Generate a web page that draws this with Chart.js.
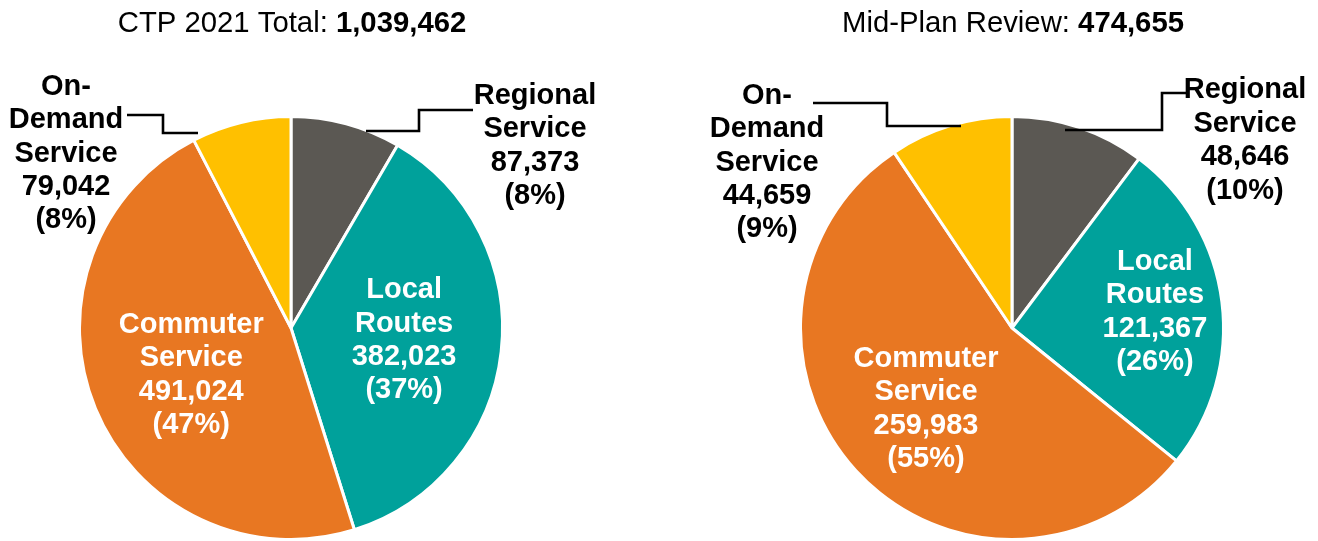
<!DOCTYPE html>
<html><head><meta charset="utf-8">
<script src="https://cdn.jsdelivr.net/npm/chart.js@4/dist/chart.umd.min.js"></script>
<style>
html,body{margin:0;padding:0;background:#fff;}
#wrap{position:relative;width:1318px;height:541px;overflow:hidden;}
canvas{position:absolute;top:0;}
</style></head><body>
<div id="wrap">
<canvas id="c1" width="659" height="541" style="left:0px"></canvas>
<canvas id="c2" width="659" height="541" style="left:659px"></canvas>
</div>
<script>
// ---- data ----
const categories = ['Regional Service', 'Local Routes', 'Commuter Service', 'On-Demand Service'];
const categoryLines = [['Regional', 'Service'], ['Local', 'Routes'], ['Commuter', 'Service'], ['On-', 'Demand', 'Service']];
const ctp2021Values = [87373, 382023, 491024, 79042];
const midPlanValues = [48646, 121367, 259983, 44659];
const chartTitles = ['CTP 2021 Total: ', 'Mid-Plan Review: '];

// ---- styles / layout ----
const sliceColors = ['#5b5853', '#00a19b', '#e87722', '#ffc000'];
const FONT = '"Liberation Sans", Arial, Helvetica, sans-serif';
const LINE_H = 33.4;
const TEXT_SHIFT = 2.5;

const layouts = [
  { originX: 0, titleX: 292, titleY: 24,
    padding: { left: 78, right: 155, top: 115, bottom: 0 },
    labels: [
      { x: 535, y: 143.5, leader: [[366,131],[419,131],[419,110],[473,110]] },
      { inside: true, dx: 8, dy: -2 },
      { inside: true, dx: -2, dy: 4 },
      { x: 66, y: 151, leader: [[127,115],[163,115],[163,133],[198,133]] }
    ] },
  { originX: 659, titleX: 1013, titleY: 24,
    padding: { left: 140, right: 93, top: 115, bottom: 0 },
    labels: [
      { x: 1245, y: 138, leader: [[1065,130],[1162,130],[1162,93],[1187,93]] },
      { inside: true, dx: 38, dy: -5.5 },
      { inside: true, dx: -8, dy: 7 },
      { x: 767, y: 160, leader: [[813,103],[887,103],[887,126],[961,126]] }
    ] }
];

function fmt(n) { return n.toLocaleString('en-US'); }

function makePlugin(lay, titleText) {
  return {
    id: 'pieLabels',
    afterDraw(chart) {
      const ctx = chart.ctx;
      const meta = chart.getDatasetMeta(0);
      const vals = chart.data.datasets[0].data;
      const total = vals.reduce((a, b) => a + b, 0);
      const ox = lay.originX;
      ctx.save();
      // title
      ctx.textBaseline = 'middle';
      ctx.fillStyle = '#000';
      const fReg = '29.3px ' + FONT, fBold = 'bold 29.3px ' + FONT;
      ctx.font = fReg; const w1 = ctx.measureText(titleText).width;
      ctx.font = fBold; const tot = fmt(total); const w2 = ctx.measureText(tot).width;
      let sx = lay.titleX - ox - (w1 + w2) / 2;
      ctx.textAlign = 'left';
      ctx.font = fReg; ctx.fillText(titleText, sx, lay.titleY);
      ctx.font = fBold; ctx.fillText(tot, sx + w1, lay.titleY);

      // labels
      ctx.textAlign = 'center';
      ctx.font = 'bold 29px ' + FONT;
      vals.forEach((v, i) => {
        const L = lay.labels[i];
        const lines = [...categoryLines[i], fmt(v), '(' + Math.round(v / total * 100) + '%)'];
        let x, y;
        if (L.inside) {
          const p = meta.data[i].tooltipPosition();
          x = p.x + L.dx; y = p.y + L.dy; ctx.fillStyle = '#fff';
        } else {
          x = L.x - ox; y = L.y; ctx.fillStyle = '#000';
        }
        const y0 = y + TEXT_SHIFT - (lines.length - 1) * LINE_H / 2;
        lines.forEach((t, k) => ctx.fillText(t, x, y0 + k * LINE_H));
        if (L.leader) {
          ctx.beginPath();
          ctx.strokeStyle = '#000';
          ctx.lineWidth = 2.6;
          ctx.lineJoin = 'miter';
          L.leader.forEach((pt, k) => {
            if (k === 0) ctx.moveTo(pt[0] - ox, pt[1]); else ctx.lineTo(pt[0] - ox, pt[1]);
          });
          ctx.stroke();
        }
      });
      ctx.restore();
    }
  };
}

function buildPie(canvasId, values, lay, titleText) {
  return new Chart(document.getElementById(canvasId), {
    type: 'pie',
    data: {
      labels: categories,
      datasets: [{
        data: values,
        backgroundColor: sliceColors,
        borderColor: '#ffffff',
        borderWidth: 3
      }]
    },
    options: {
      responsive: false,
      animation: false,
      devicePixelRatio: 1,
      layout: { padding: lay.padding },
      plugins: { legend: { display: false }, tooltip: { enabled: false }, title: { display: false } }
    },
    plugins: [makePlugin(lay, titleText)]
  });
}

buildPie('c1', ctp2021Values, layouts[0], chartTitles[0]);
buildPie('c2', midPlanValues, layouts[1], chartTitles[1]);
</script>
</body></html>
